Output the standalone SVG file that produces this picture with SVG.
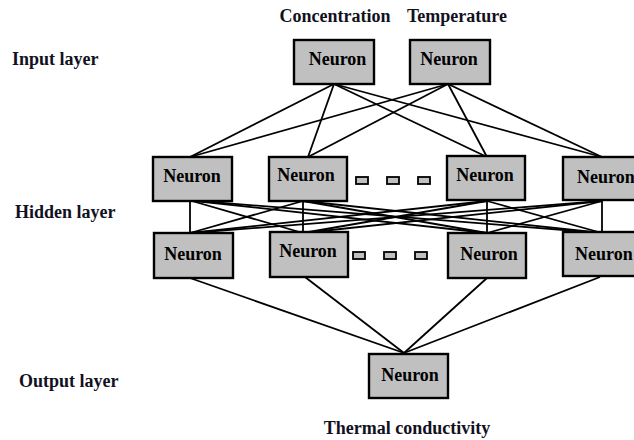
<svg xmlns="http://www.w3.org/2000/svg" width="634" height="440" viewBox="0 0 634 440">
<style>
.box{fill:#c0c0c0;stroke:#000;stroke-width:2.4}
.dash{fill:#c0c0c0;stroke:#000;stroke-width:1.8}
.t{font-family:"Liberation Serif","Times New Roman",serif;font-weight:bold;font-size:18px;fill:#000}
.lab{font-family:"Liberation Serif","Times New Roman",serif;font-weight:bold;font-size:18px;fill:#111122}
#conn line{stroke:#000;stroke-width:1.8}
</style>
<rect width="634" height="440" fill="#fff"/>
<g id="conn">
<line x1="334" y1="84" x2="190" y2="157"/>
<line x1="334" y1="84" x2="308" y2="157"/>
<line x1="334" y1="84" x2="487" y2="157"/>
<line x1="334" y1="84" x2="602" y2="157"/>
<line x1="448" y1="84" x2="190" y2="157"/>
<line x1="448" y1="84" x2="308" y2="157"/>
<line x1="448" y1="84" x2="487" y2="157"/>
<line x1="448" y1="84" x2="602" y2="157"/>
<line x1="190" y1="201" x2="190" y2="233"/>
<line x1="192" y1="201" x2="303" y2="233"/>
<line x1="195" y1="201" x2="487" y2="233"/>
<line x1="198" y1="201" x2="602" y2="233"/>
<line x1="303" y1="201" x2="190" y2="233"/>
<line x1="303" y1="201" x2="303" y2="233"/>
<line x1="303" y1="201" x2="487" y2="233"/>
<line x1="303" y1="201" x2="602" y2="233"/>
<line x1="487" y1="201" x2="190" y2="233"/>
<line x1="487" y1="201" x2="303" y2="233"/>
<line x1="487" y1="201" x2="487" y2="233"/>
<line x1="487" y1="201" x2="602" y2="233"/>
<line x1="602" y1="201" x2="190" y2="233"/>
<line x1="602" y1="201" x2="303" y2="233"/>
<line x1="602" y1="201" x2="487" y2="233"/>
<line x1="602" y1="201" x2="602" y2="233"/>
<line x1="190" y1="278" x2="404" y2="353"/>
<line x1="305" y1="277" x2="404" y2="353"/>
<line x1="487" y1="278" x2="404" y2="353"/>
<line x1="600" y1="277" x2="404" y2="353"/>
</g>
<g id="in1"><rect class="box" x="294" y="40" width="80" height="44"/><text class="t" x="337.5" y="65" text-anchor="middle">Neuron</text></g>
<g id="in2"><rect class="box" x="410" y="40" width="80" height="44"/><text class="t" x="449" y="65" text-anchor="middle">Neuron</text></g>
<g id="h1a"><rect class="box" x="153" y="157" width="79" height="44"/><text class="t" x="192" y="182" text-anchor="middle">Neuron</text></g>
<g id="h1b"><rect class="box" x="269" y="157" width="78" height="44"/><text class="t" x="306" y="181" text-anchor="middle">Neuron</text></g>
<g id="h1c"><rect class="box" x="447" y="156" width="78" height="44"/><text class="t" x="485" y="181" text-anchor="middle">Neuron</text></g>
<g id="h1d"><rect class="box" x="563" y="157" width="79" height="43"/><text class="t" x="577" y="183">Neuron</text></g>
<g id="h1dots"><rect class="dash" x="356" y="177" width="12" height="7"/><rect class="dash" x="387" y="177" width="12" height="7"/><rect class="dash" x="418" y="177" width="12" height="7"/></g>
<g id="h2a"><rect class="box" x="154" y="233" width="79" height="45"/><text class="t" x="193" y="260" text-anchor="middle">Neuron</text></g>
<g id="h2b"><rect class="box" x="270" y="232" width="78" height="45"/><text class="t" x="308" y="257" text-anchor="middle">Neuron</text></g>
<g id="h2c"><rect class="box" x="448" y="233" width="78" height="45"/><text class="t" x="489" y="260" text-anchor="middle">Neuron</text></g>
<g id="h2d"><rect class="box" x="563" y="232" width="79" height="44"/><text class="t" x="575" y="260">Neuron</text></g>
<g id="h2dots"><rect class="dash" x="353" y="252" width="12" height="7"/><rect class="dash" x="384" y="252" width="12" height="7"/><rect class="dash" x="415" y="252" width="12" height="7"/></g>
<g id="out"><rect class="box" x="369" y="354" width="79" height="44"/><text class="t" x="410" y="381" text-anchor="middle">Neuron</text></g>
<g id="labels">
<text class="lab" x="335" y="22" text-anchor="middle">Concentration</text>
<text class="lab" x="457" y="22" text-anchor="middle">Temperature</text>
<text class="lab" x="12" y="65">Input layer</text>
<text class="lab" x="15" y="218">Hidden layer</text>
<text class="lab" x="19" y="387">Output layer</text>
<text class="lab" x="407" y="434" text-anchor="middle">Thermal conductivity</text>
</g>
</svg>
